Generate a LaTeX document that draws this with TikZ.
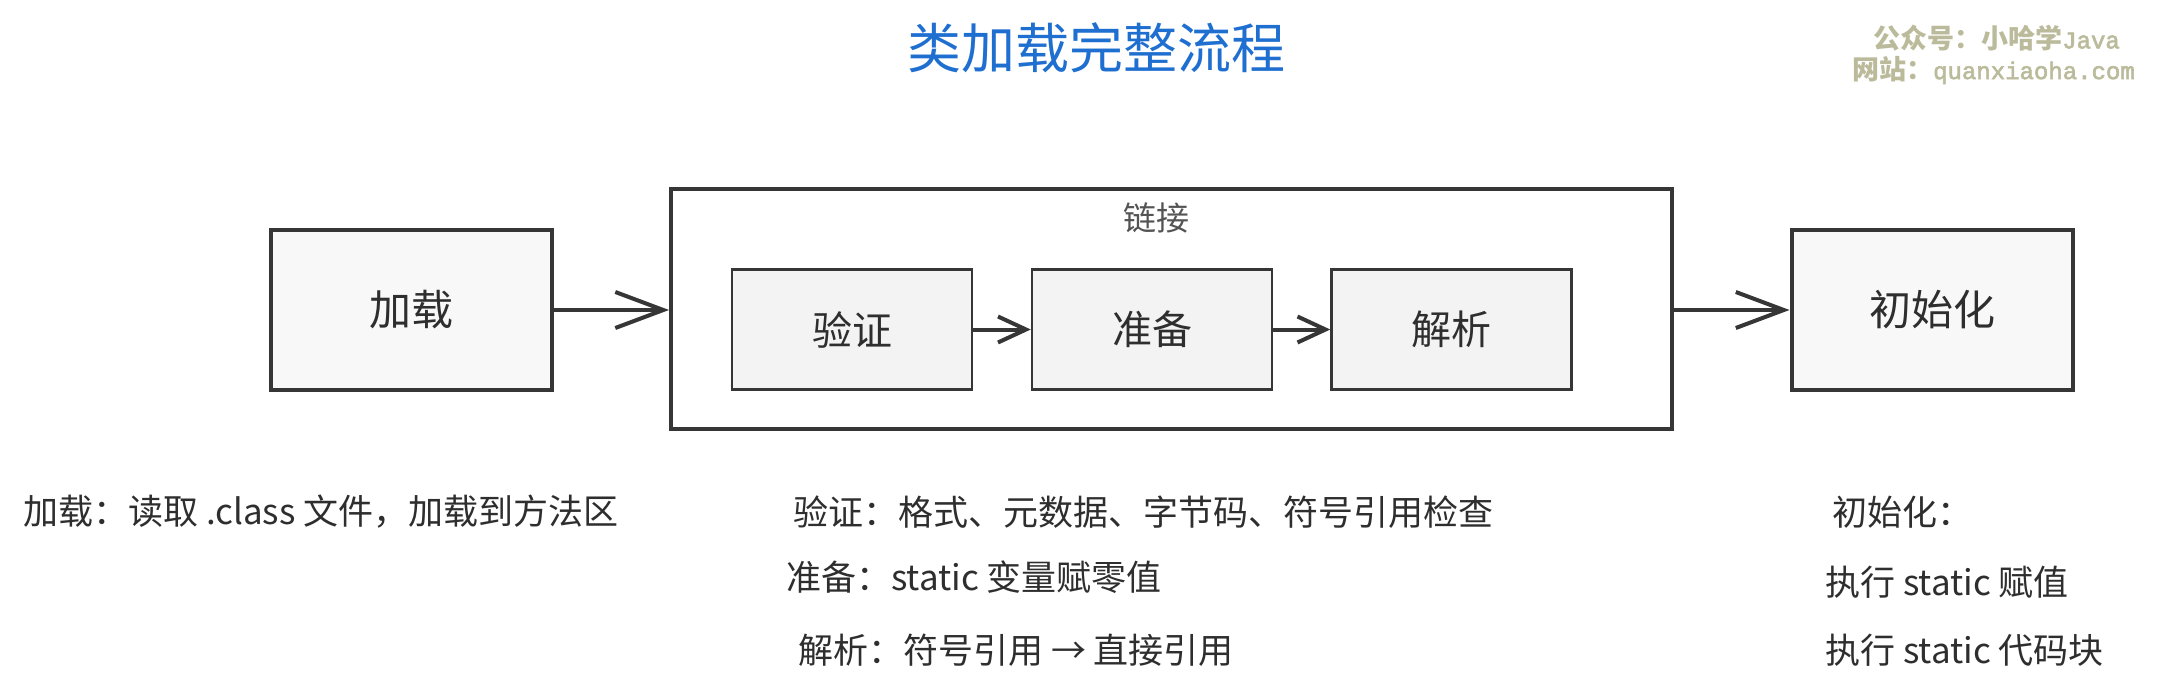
\documentclass[tikz,border=0pt]{standalone}
\usepackage{fontspec}
\setmainfont{Noto Sans CJK SC}
\newfontfamily\wmmono{Liberation Mono}[FakeBold=2.5]
\usetikzlibrary{arrows.meta}

\definecolor{titleblue}{HTML}{1F6FD1}
\definecolor{boxline}{HTML}{363636}
\definecolor{boxfill}{HTML}{F8F8F8}
\definecolor{innerfill}{HTML}{F3F3F3}
\definecolor{wmgray}{HTML}{BBBB9C}
\definecolor{txt}{HTML}{2E2E2E}

\tikzset{
  stage/.style={draw=boxline, line width=4pt, fill=boxfill, text=txt, inner sep=0pt,
    minimum width=281pt, minimum height=160pt, font=\fontsize{42}{48}\selectfont},
  substage/.style={draw=boxline, line width=2.5pt, fill=innerfill, text=txt, inner sep=0pt,
    minimum width=240pt, minimum height=120pt, font=\fontsize{40}{46}\selectfont},
  group/.style={draw=boxline, line width=4pt, fill=white, inner sep=0pt},
  note/.style={anchor=west, inner sep=0pt, text=txt, font=\fontsize{35}{40}\selectfont},
  wmark/.style={anchor=east, inner sep=0pt, text=wmgray, font=\fontsize{27}{32}\selectfont\bfseries},
  bigarrow/.style={draw=boxline, line width=4pt, line cap=round,
    -{Straight Barb[length=48pt, width=36pt]}},
  smallarrow/.style={draw=boxline, line width=4pt, line cap=round,
    -{Straight Barb[length=28pt, width=26pt]}}
}
\newcommand{\wmlatin}[1]{{\wmmono\mdseries\fontsize{24}{28}\selectfont #1}}

\begin{document}
\begin{tikzpicture}[x=1pt, y=-1pt]
    \path[use as bounding box, fill=white] (0,0) rectangle (2158,698);

    % title and watermark
    \node[text=titleblue, font=\fontsize{54}{60}\selectfont] (title) at (1096,48) {类加载完整流程};
    \node[wmark] (wm1) at (2120,38) {公众号：小哈学\wmlatin{Java}};
    \node[wmark] (wm2) at (2135,70) {网站：\wmlatin{quanxiaoha.com}};

    % stages
    \node[stage] (load) at (411.5,310) {加载};
    \node[group, minimum width=1001pt, minimum height=240pt] (link) at (1171.5,309) {};
    \node[text=boxline!85, font=\fontsize{33}{38}\selectfont] (linktitle) at (1156,218) {链接};
    \node[substage] (verify) at (852,329.5) {验证};
    \node[substage] (prepare) at (1152,329.5) {准备};
    \node[substage] (resolve) at (1451.5,329.5) {解析};
    \node[stage] (init) at (1932,310) {初始化};

    \draw[bigarrow] (load.east) -- (load.east -| link.west);
    \draw[smallarrow] (verify.east) -- (prepare.west);
    \draw[smallarrow] (prepare.east) -- (resolve.west);
    \draw[bigarrow] (link.east |- init.west) -- (init.west);

    % notes
    \node[note] (loadnote) at (23,512) {加载：读取 .class 文件，加载到方法区};
    \node[note] (verifynote) at (793,512) {验证：格式、元数据、字节码、符号引用检查};
    \node[note] (preparenote) at (786,577) {准备：static 变量赋零值};
    \node[note] (resolvenote) at (798,650) {解析：符号引用 → 直接引用};
    \node[note] (initnote) at (1832,512) {初始化：};
    \node[note] (initnotea) at (1825,582) {执行 static 赋值};
    \node[note] (initnoteb) at (1825,650) {执行 static 代码块};
\end{tikzpicture}
\end{document}
